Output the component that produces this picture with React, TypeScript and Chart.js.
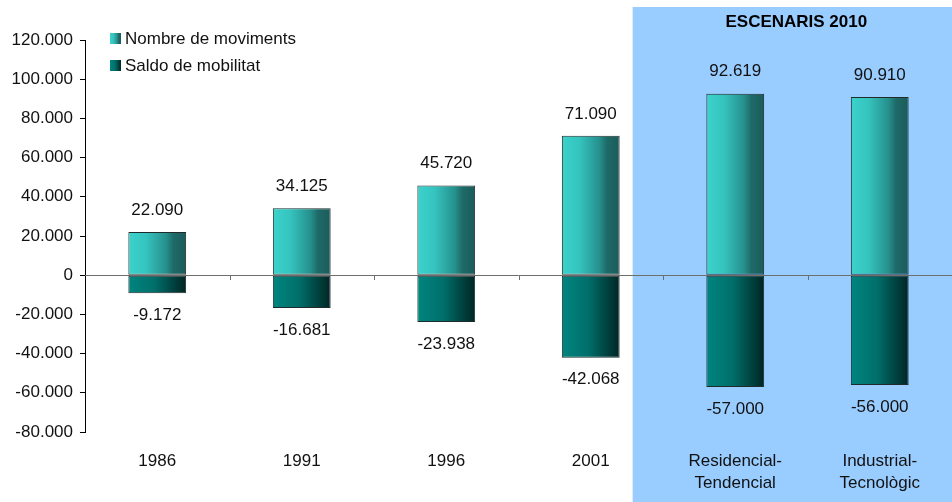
import React, { useEffect, useRef } from "react";
import { Chart, registerables } from "chart.js";

Chart.register(...registerables);

const categories: (string | string[])[] = [
  "1986",
  "1991",
  "1996",
  "2001",
  ["Residencial-", "Tendencial"],
  ["Industrial-", "Tecnològic"],
];
const moviments = [22090, 34125, 45720, 71090, 92619, 90910];
const saldo = [-9172, -16681, -23938, -42068, -57000, -56000];
const seriesNames = ["Nombre de moviments", "Saldo de mobilitat"];
const yMin = -80000;
const yMax = 120000;
const yStep = 20000;
const scenarioTitle = "ESCENARIS 2010";
const scenarioStartIndex = 3.29;

const FONT = "'Liberation Sans', Arial, sans-serif";
const BAR_PCT = 0.4;
const POS_STOPS: [number, string][] = [
  [0, "#3cd2cc"],
  [0.3, "#35c4bf"],
  [0.65, "#26908d"],
  [0.78, "#1e6a68"],
  [1, "#1b5b5a"],
];
const NEG_STOPS: [number, string][] = [
  [0, "#00857f"],
  [0.45, "#006f6b"],
  [0.75, "#004643"],
  [1, "#002524"],
];

function fmt(v: number): string {
  const s = Math.abs(Math.round(v))
    .toString()
    .replace(/\B(?=(\d{3})+(?!\d))/g, ".");
  return (v < 0 ? "-" : "") + s;
}

function grad(ctx: CanvasRenderingContext2D, x0: number, x1: number, stops: [number, string][]) {
  const g = ctx.createLinearGradient(x0, 0, x1, 0);
  stops.forEach(([o, c]) => g.addColorStop(o, c));
  return g;
}

function barBg(stops: [number, string][]) {
  return (c: any) => {
    const chart = c.chart;
    const xs = chart.scales && chart.scales.x;
    if (!xs || !chart.chartArea || typeof c.dataIndex !== "number") return stops[0][1];
    const cx = xs.getPixelForValue(c.dataIndex);
    const w = (xs.width / categories.length) * BAR_PCT;
    if (!isFinite(cx) || !isFinite(w)) return stops[0][1];
    return grad(chart.ctx, cx - w / 2, cx + w / 2, stops);
  };
}

const decorPlugin = {
  id: "decor",
  beforeDraw(chart: any) {
    const { ctx } = chart;
    const xs = chart.scales.x;
    const x0 = xs.getPixelForValue(scenarioStartIndex);
    ctx.save();
    ctx.fillStyle = "#99ccff";
    ctx.fillRect(x0, 7, chart.width - x0, chart.height - 7);
    ctx.fillStyle = "#000";
    ctx.font = `bold 17px ${FONT}`;
    ctx.textAlign = "center";
    ctx.textBaseline = "middle";
    ctx.fillText(scenarioTitle, (x0 + chart.width) / 2 + 4, 22);
    ctx.restore();
  },
  afterDatasetsDraw(chart: any) {
    const { ctx, chartArea } = chart;
    const xs = chart.scales.x;
    const ys = chart.scales.y;
    const y0 = ys.getPixelForValue(0);
    ctx.save();
    // zero line
    ctx.strokeStyle = "#6e6e6e";
    ctx.lineWidth = 1;
    ctx.beginPath();
    ctx.moveTo(chartArea.left, Math.round(y0) + 0.5);
    ctx.lineTo(chartArea.right, Math.round(y0) + 0.5);
    ctx.stroke();
    // category tick marks
    for (let i = 1; i < categories.length; i++) {
      const x = (xs.getPixelForValue(i - 1) + xs.getPixelForValue(i)) / 2;
      ctx.beginPath();
      ctx.moveTo(Math.round(x) + 0.5, Math.round(y0));
      ctx.lineTo(Math.round(x) + 0.5, Math.round(y0) + 5);
      ctx.stroke();
    }
    // data labels
    ctx.fillStyle = "#111";
    ctx.font = `17px ${FONT}`;
    ctx.textAlign = "center";
    ctx.textBaseline = "middle";
    chart.data.datasets.forEach((ds: any, di: number) => {
      const meta = chart.getDatasetMeta(di);
      meta.data.forEach((el: any, i: number) => {
        const v = ds.data[i];
        const y = v >= 0 ? el.y - 22 : el.y + 22;
        ctx.fillText(fmt(v), el.x, y);
      });
    });
    ctx.restore();
  },
  afterDraw(chart: any) {
    const { ctx } = chart;
    ctx.save();
    ctx.font = `17px ${FONT}`;
    ctx.textAlign = "left";
    ctx.textBaseline = "middle";
    const rows = [
      { y: 39, stops: POS_STOPS },
      { y: 66, stops: NEG_STOPS },
    ];
    seriesNames.forEach((name, i) => {
      const r = rows[i];
      ctx.fillStyle = grad(ctx, 110, 121, r.stops);
      ctx.fillRect(110, r.y - 6, 11, 11);
      ctx.fillStyle = "#111";
      ctx.fillText(name, 125, r.y);
    });
    ctx.restore();
  },
};

export default function App() {
  const ref = useRef<HTMLCanvasElement | null>(null);
  useEffect(() => {
    if (!ref.current) return;
    const chart = new Chart(ref.current, {
      type: "bar",
      data: {
        labels: categories as any,
        datasets: [
          {
            label: seriesNames[0],
            data: moviments,
            backgroundColor: barBg(POS_STOPS) as any,
            borderColor: "#1f2b2b",
            borderWidth: 1,
            borderSkipped: false,
            barPercentage: BAR_PCT,
            categoryPercentage: 1,
          },
          {
            label: seriesNames[1],
            data: saldo,
            backgroundColor: barBg(NEG_STOPS) as any,
            borderColor: "#1f2b2b",
            borderWidth: 1,
            borderSkipped: false,
            barPercentage: BAR_PCT,
            categoryPercentage: 1,
          },
        ],
      },
      options: {
        responsive: false,
        animation: false,
        layout: { padding: { top: 40, right: 0, left: 0, bottom: 0 } },
        plugins: {
          legend: { display: false },
          tooltip: { enabled: false },
          title: { display: false },
        },
        scales: {
          x: {
            stacked: true,
            grid: { display: false, drawTicks: false },
            border: { display: false },
            ticks: {
              color: "#111",
              font: { family: FONT, size: 17, lineHeight: 1.25 },
              padding: 19,
              maxRotation: 0,
              autoSkip: false,
            },
            afterFit: (s: any) => {
              s.height = 70;
            },
          },
          y: {
            stacked: true,
            min: yMin,
            max: yMax,
            grid: {
              drawOnChartArea: false,
              drawTicks: true,
              tickLength: 5,
              tickColor: "#000",
            },
            border: { display: true, color: "#000", width: 1 },
            ticks: {
              stepSize: yStep,
              color: "#111",
              font: { family: FONT, size: 17 },
              padding: 7,
              callback: (v: any) => fmt(Number(v)),
            },
            afterFit: (s: any) => {
              s.width = 85;
            },
          },
        },
      },
      plugins: [decorPlugin],
    });
    return () => chart.destroy();
  }, []);
  return (
    <div style={{ position: "fixed", left: 0, top: 0, width: 952, height: 502 }}>
      <canvas ref={ref} width={952} height={502} style={{ display: "block" }} />
    </div>
  );
}
